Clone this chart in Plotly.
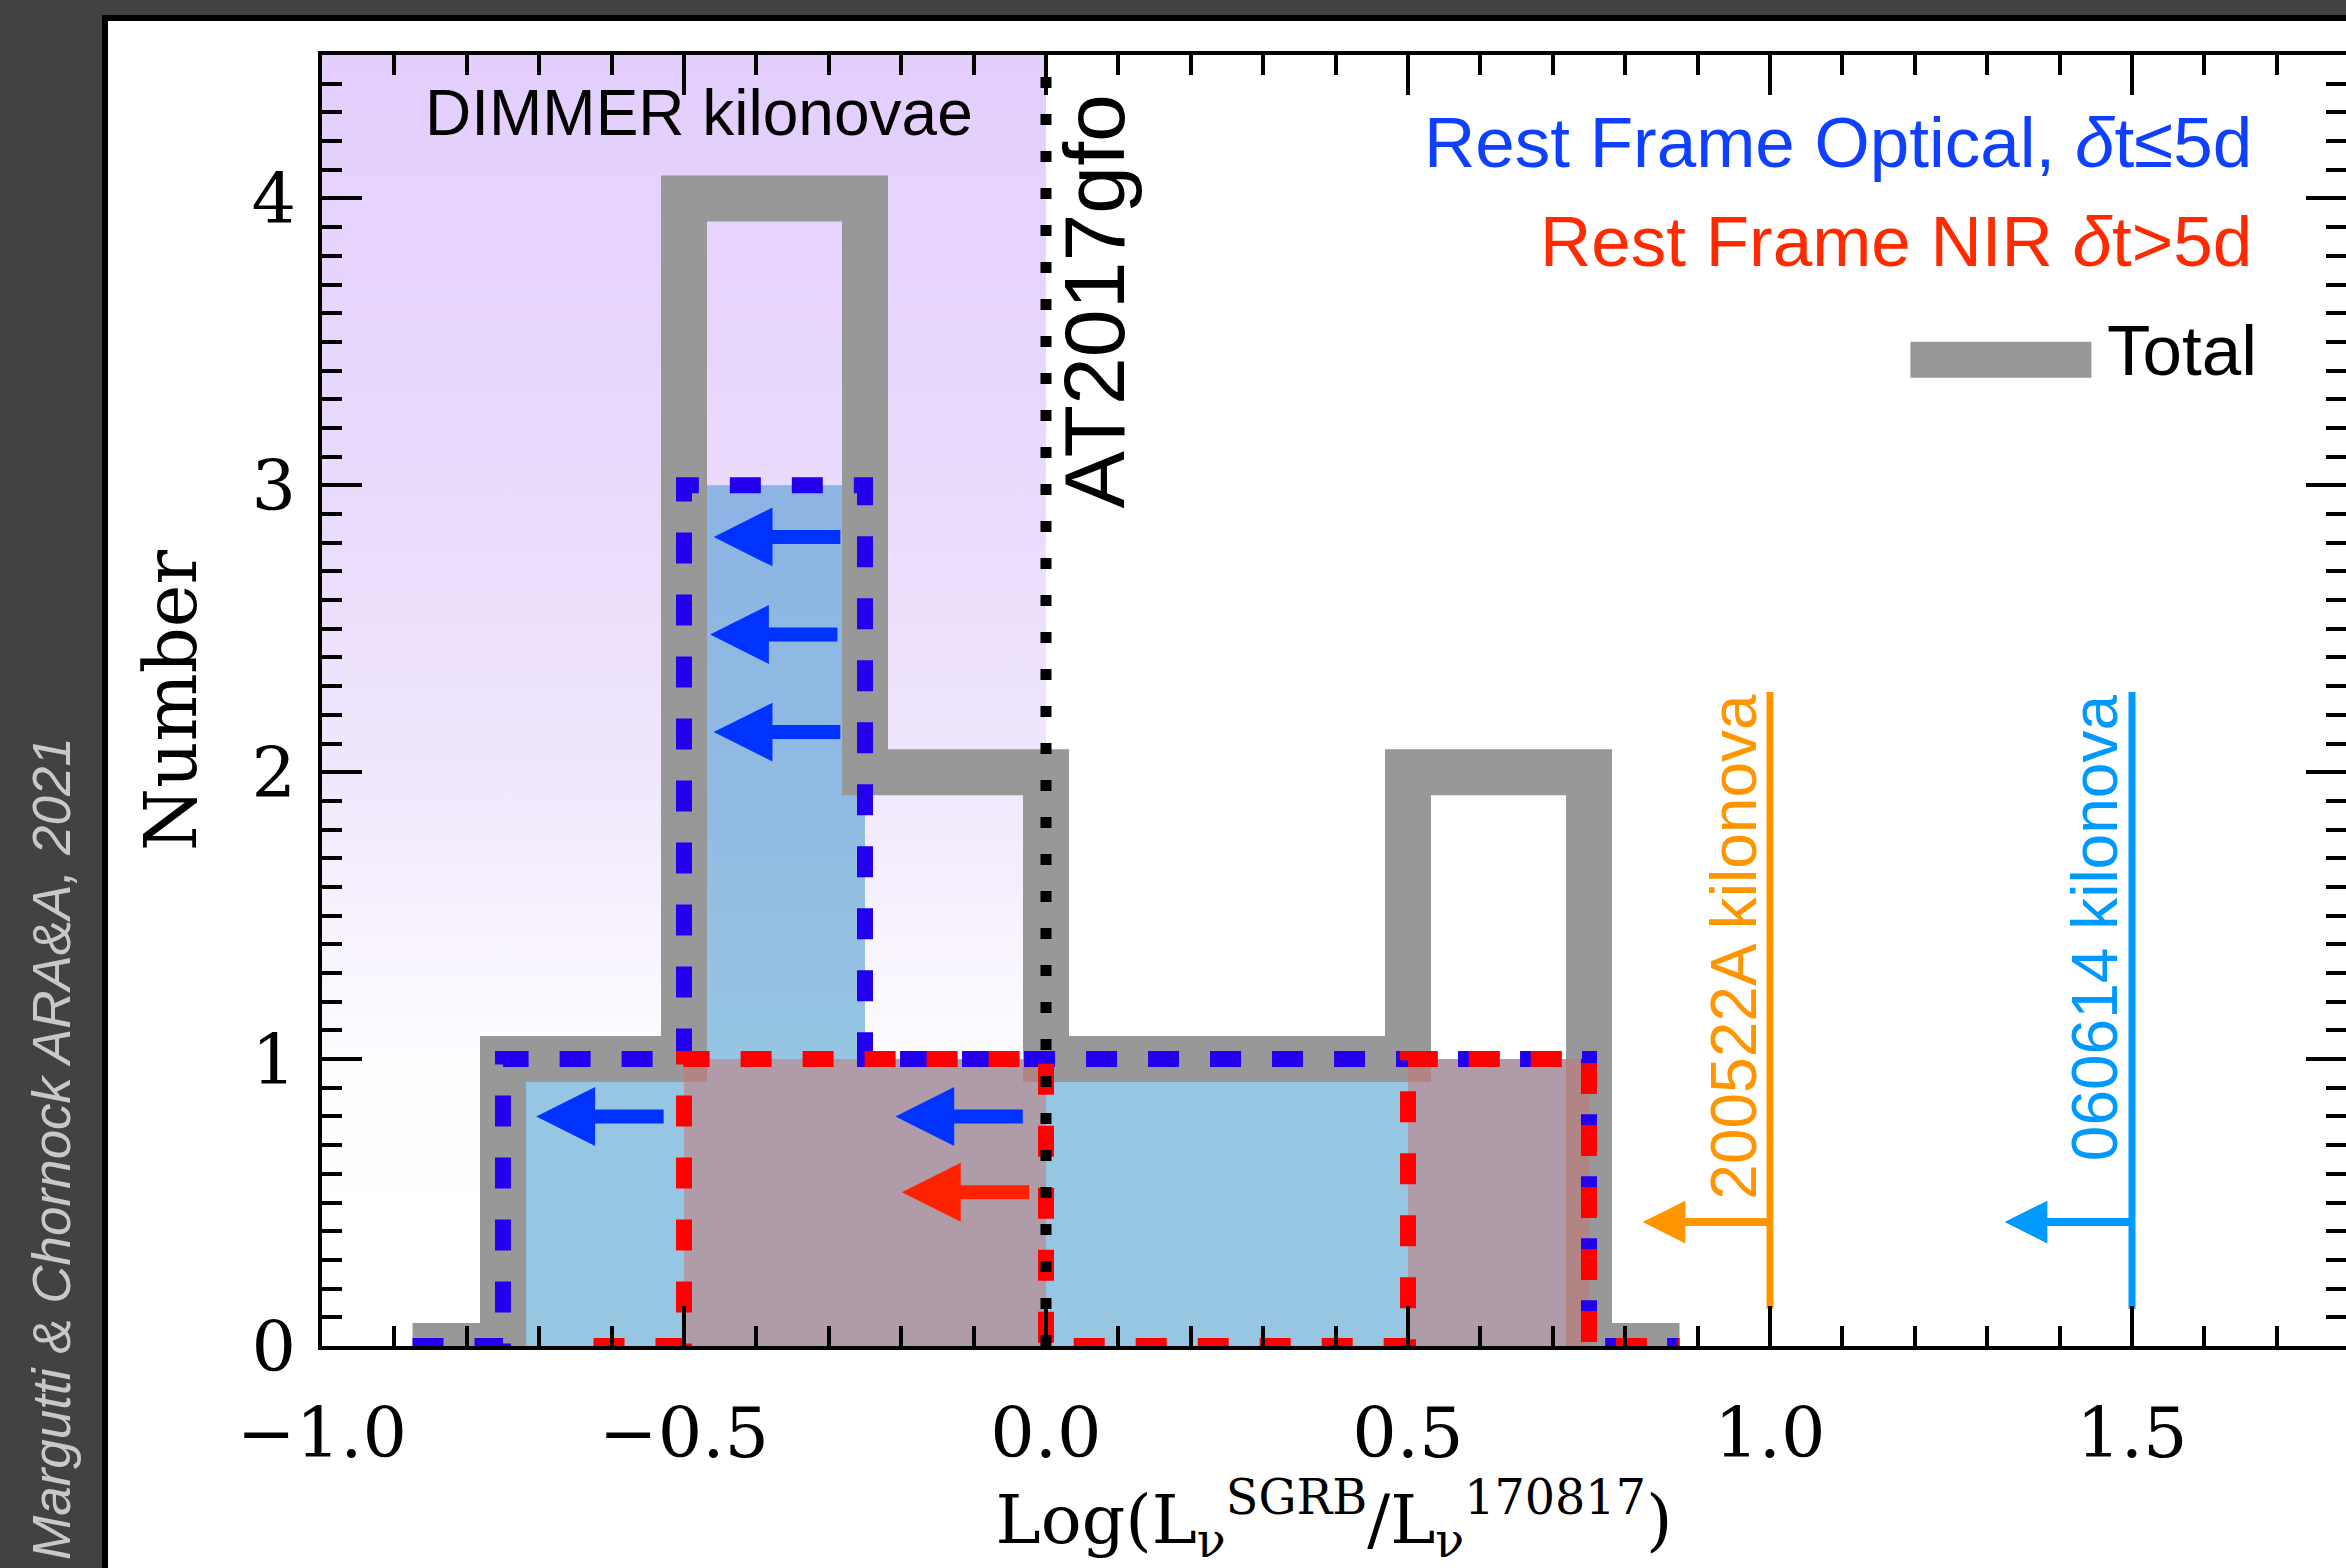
import plotly.graph_objects as go

# ---------------- data ----------------
# histogram bins (centres, width 0.25) and counts
bin_centers = [-0.875, -0.625, -0.375, -0.125, 0.125, 0.375, 0.625, 0.875]
total_counts = [0, 1, 4, 2, 1, 1, 2, 0]
optical_counts = [0, 1, 3, 1, 1, 1, 1, 0]
nir_centers = [-0.625, -0.375, -0.125, 0.125, 0.375, 0.625, 0.875]
nir_counts = [0, 1, 1, 0, 0, 1, 0]

# upper limits (left-pointing arrows): level, limit value (tip), start (tail)
optical_limit_y = [2.82, 2.48, 2.14, 0.80, 0.80]
optical_limit_tip = [-0.459, -0.464, -0.459, -0.704, -0.208]
optical_limit_tail = [-0.282, -0.286, -0.282, -0.526, -0.030]
nir_limit_y = [0.536]
nir_limit_tip = [-0.199]
nir_limit_tail = [-0.021]

# individual kilonovae
kn_names = ["200522A kilonova", "060614 kilonova"]
kn_x = [1.0, 1.5]
kn_limit_tip = [0.824, 1.324]
kn_limit_y = [0.432, 0.432]
kn_colors = ["#ff9500", "#0099ff"]
kn_line_y = [0.13, 2.28]

at2017gfo_x = 0.0
dimmer_x = [-1.0, 0.0]

x_range = [-1.0, 1.7956]
y_range = [0.0, 4.5]

# ---------------- figure ----------------
fig = go.Figure()

# DIMMER region (purple gradient)
fig.add_trace(go.Scatter(
    x=[dimmer_x[0], dimmer_x[1], dimmer_x[1], dimmer_x[0], dimmer_x[0]],
    y=[y_range[0], y_range[0], y_range[1], y_range[1], y_range[0]],
    mode="none", fill="toself",
    fillgradient=dict(type="vertical", start=y_range[0], stop=y_range[1],
                      colorscale=[[0, "#ffffff"], [0.2, "#fefeff"], [0.3, "#f9f5fe"],
                                  [0.44, "#f0e7fc"], [0.65, "#eadbfc"], [1, "#e3cefd"]]),
    hoverinfo="skip"))

# optical fill
fig.add_trace(go.Scatter(x=bin_centers, y=optical_counts, mode="lines",
                         line=dict(shape="hvh", width=0, color="rgba(0,0,0,0)"),
                         fill="tozeroy", fillcolor="rgba(47,141,199,0.5)"))
# total (thick gray)
fig.add_trace(go.Scatter(x=bin_centers, y=total_counts, mode="lines",
                         line=dict(shape="hvh", width=46, color="#989898")))
# NIR fill
fig.add_trace(go.Scatter(x=nir_centers, y=nir_counts, mode="lines",
                         line=dict(shape="hvh", width=0, color="rgba(0,0,0,0)"),
                         fill="tozeroy", fillcolor="rgba(201,114,109,0.5)"))
# dashed outlines
fig.add_trace(go.Scatter(x=bin_centers, y=optical_counts, mode="lines",
                         line=dict(shape="hvh", width=16, color="#2200ee", dash="31px,31px")))
fig.add_trace(go.Scatter(x=nir_centers, y=nir_counts, mode="lines",
                         line=dict(shape="hvh", width=16, color="#ff0000", dash="31px,31px")))
# AT2017gfo dotted line
fig.add_trace(go.Scatter(x=[at2017gfo_x, at2017gfo_x], y=y_range, mode="lines",
                         line=dict(width=11, color="black", dash="11px,26px")))
# kilonova vertical lines
for kx, kc in zip(kn_x, kn_colors):
    fig.add_trace(go.Scatter(x=[kx, kx], y=kn_line_y, mode="lines",
                             line=dict(width=7, color=kc)))

# arrows
def arrow(y, tip, tail, color, width, size):
    fig.add_annotation(x=tip, y=y, ax=tail, ay=y, xref="x", yref="y", axref="x", ayref="y",
                       text="", showarrow=True, arrowhead=2, arrowsize=size,
                       arrowwidth=width, arrowcolor=color, standoff=0)

for y, tp, tl in zip(optical_limit_y, optical_limit_tip, optical_limit_tail):
    arrow(y, tp, tl, "#0033ff", 14, 0.84)
for y, tp, tl in zip(nir_limit_y, nir_limit_tip, nir_limit_tail):
    arrow(y, tp, tl, "#ff2200", 14, 0.84)
for kx, tp, ky, kc, name in zip(kn_x, kn_limit_tip, kn_limit_y, kn_colors, kn_names):
    arrow(ky, tp, kx, kc, 8, 1.07)
    fig.add_annotation(x=kx - 0.05, y=kn_line_y[1], xref="x", yref="y", text=name,
                       textangle=-90, showarrow=False, xanchor="center", yanchor="top",
                       font=dict(family="Liberation Sans", size=64, color=kc))

sans = "Liberation Sans"
fig.add_annotation(x=-0.479, y=4.297, text="DIMMER kilonovae", showarrow=False,
                   xanchor="center", yanchor="middle",
                   font=dict(family=sans, size=64, color="black"))
fig.add_annotation(x=0.066, y=3.64, text="AT2017gfo", showarrow=False, textangle=-90,
                   xanchor="center", yanchor="middle",
                   font=dict(family=sans, size=86, color="black"))
fig.add_annotation(x=1.669, y=4.195, text="Rest Frame Optical, <i>δ</i>t≤5d", showarrow=False,
                   xanchor="right", yanchor="middle", font=dict(family=sans, size=71, color="#1040ff"))
fig.add_annotation(x=1.669, y=3.85, text="Rest Frame NIR <i>δ</i>t>5d", showarrow=False,
                   xanchor="right", yanchor="middle", font=dict(family=sans, size=71, color="#ff2a00"))
fig.add_annotation(x=1.676, y=3.47, text="Total", showarrow=False,
                   xanchor="right", yanchor="middle", font=dict(family=sans, size=71, color="black"))
fig.add_shape(type="line", x0=1.194, x1=1.444, y0=3.4375, y1=3.4375, xref="x", yref="y",
              line=dict(color="#989898", width=36))

# credit text
fig.add_annotation(x=-0.1334, y=0.1534, xref="paper", yref="paper",
                   text="Margutti & Chornock ARA&A, 2021", showarrow=False, textangle=-90,
                   xanchor="center", yanchor="middle",
                   font=dict(family="Liberation Sans", size=53, color="#c8c8c8", style="italic"))

# white panel
fig.add_shape(type="rect", xref="paper", yref="paper", x0=-0.1072, x1=1.05, y0=-0.3, y1=1.0287,
              fillcolor="white", line=dict(color="black", width=6), layer="below")

serif = "DejaVu Serif"
axis_common = dict(showline=True, linecolor="black", linewidth=4, mirror="allticks",
                   ticks="inside", ticklen=40, tickwidth=4, tickcolor="black",
                   showgrid=False, zeroline=False, automargin=False,
                   tickfont=dict(family=serif, size=70, color="black"))
fig.update_xaxes(range=x_range, tickmode="linear", tick0=0, dtick=0.5, tickformat=".1f",
                 minor=dict(ticks="inside", ticklen=20, tickwidth=4, tickcolor="black",
                            tickmode="linear", tick0=0, dtick=0.1, showgrid=False),
                 ticklabelstandoff=23,
                 title=dict(text="Log(L<sub>ν</sub><sup>SGRB</sup>/L<sub>ν</sub><sup>170817</sup>)",
                            font=dict(family=serif, size=68, color="black"), standoff=50),
                 **axis_common)
fig.update_yaxes(range=y_range, tickmode="linear", tick0=0, dtick=1,
                 minor=dict(ticks="inside", ticklen=20, tickwidth=4, tickcolor="black",
                            tickmode="linear", tick0=0, dtick=0.1, showgrid=False),
                 ticklabelstandoff=8,
                 title=dict(text="Number", font=dict(family=serif, size=72, color="black"),
                            standoff=32),
                 **axis_common)

fig.update_layout(width=2346, height=1568, margin=dict(l=322, r=0, t=55, b=222),
                  paper_bgcolor="#424242", plot_bgcolor="rgba(0,0,0,0)", showlegend=False)

fig.write_html("out.html")
